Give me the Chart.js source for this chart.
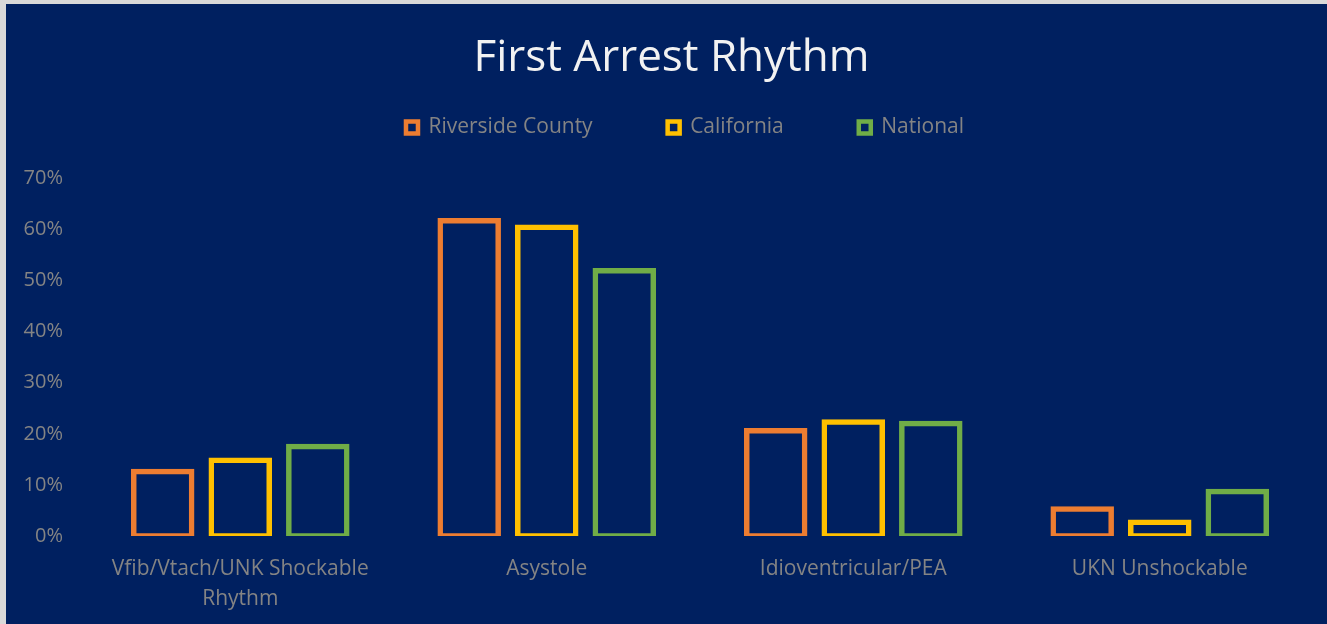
<!DOCTYPE html>
<html>
<head>
<meta charset="utf-8">
<script src="https://cdn.jsdelivr.net/npm/chart.js@4.4.1/dist/chart.umd.min.js"></script>
<style>
  html, body { margin: 0; padding: 0; background: #d9d9d9; width: 1327px; height: 624px; overflow: hidden; }
  #wrap { position: absolute; left: 6px; top: 4px; width: 1321px; height: 620px; background: #002060; }
  canvas { display: block; }
</style>
</head>
<body>
<div id="wrap"><canvas id="c"></canvas></div>
<script>
const categories = [['Vfib/Vtach/UNK Shockable', 'Rhythm'], 'Asystole', 'Idioventricular/PEA', 'UKN Unshockable'];
const seriesNames = ['Riverside County', 'California', 'National'];
const riverside = [12.6, 61.7, 20.6, 5.3];
const california = [14.8, 60.4, 22.3, 2.7];
const national = [17.5, 51.9, 22.0, 8.7];
const yTicks = [0, 10, 20, 30, 40, 50, 60, 70];

const BG = '#002060';
const TXT = '#848484';
const FONT = '"Open Sans", Lato, sans-serif';

function ds(label, data, color) {
  return {
    label, data,
    backgroundColor: BG,
    borderColor: color,
    borderWidth: 5.5,
    borderSkipped: false,
    inflateAmount: 2.75,
    categoryPercentage: 0.759,
    barPercentage: 0.748
  };
}

// nudges the title and legend boxes horizontally to match the reference layout
const boxNudge = {
  id: 'boxNudge',
  afterLayout(chart) {
    if (chart.titleBlock) { chart.titleBlock.left += 12; chart.titleBlock.right += 12; }
    if (chart.legend) { chart.legend.left -= 15; chart.legend.right -= 15; }
  }
};

new Chart(document.getElementById('c'), {
  type: 'bar',
  data: {
    labels: categories,
    datasets: [
      ds(seriesNames[0], riverside, '#ED7D31'),
      ds(seriesNames[1], california, '#FFC000'),
      ds(seriesNames[2], national, '#70AD47')
    ]
  },
  plugins: [boxNudge],
  options: {
    responsive: true,
    maintainAspectRatio: false,
    animation: false,
    layout: { padding: { left: 0, right: 14, top: 0, bottom: 0 } },
    plugins: {
      tooltip: { enabled: false },
      title: {
        display: true,
        text: 'First Arrest Rhythm',
        color: '#F2F2F2',
        font: { family: FONT, size: 44, weight: 'normal', lineHeight: 1.2 },
        padding: { top: 28, bottom: -42.8 }
      },
      legend: {
        display: true,
        position: 'top',
        fullSize: false,
        labels: {
          color: TXT,
          font: { family: FONT, size: 21 },
          boxWidth: 12,
          boxHeight: 12,
          padding: 75,
          generateLabels(chart) {
            const items = Chart.defaults.plugins.legend.labels.generateLabels(chart);
            items.forEach(it => { it.lineWidth = 4.5; it.fillStyle = BG; });
            return items;
          }
        }
      },
      subtitle: {
        display: true,
        text: '',
        weight: 500,
        font: { size: 30.3, lineHeight: 1 },
        padding: 0
      }
    },
    scales: {
      x: {
        grid: { display: false, drawTicks: false },
        border: { display: false },
        ticks: {
          color: TXT,
          font: { family: FONT, size: 21, lineHeight: 1.4 },
          padding: 18.5,
          maxRotation: 0,
          autoSkip: false
        },
        afterFit(scale) { scale.height = 88; }
      },
      y: {
        min: 0,
        max: 70,
        grid: { display: false, drawTicks: false },
        border: { display: false },
        afterBuildTicks(scale) { scale.ticks = yTicks.map(v => ({ value: v })); },
        ticks: {
          color: TXT,
          font: { family: FONT, size: 20 },
          padding: 24,
          callback: v => v + '%'
        },
        afterFit(scale) { scale.width = 81; }
      }
    }
  }
});
</script>
</body>
</html>
